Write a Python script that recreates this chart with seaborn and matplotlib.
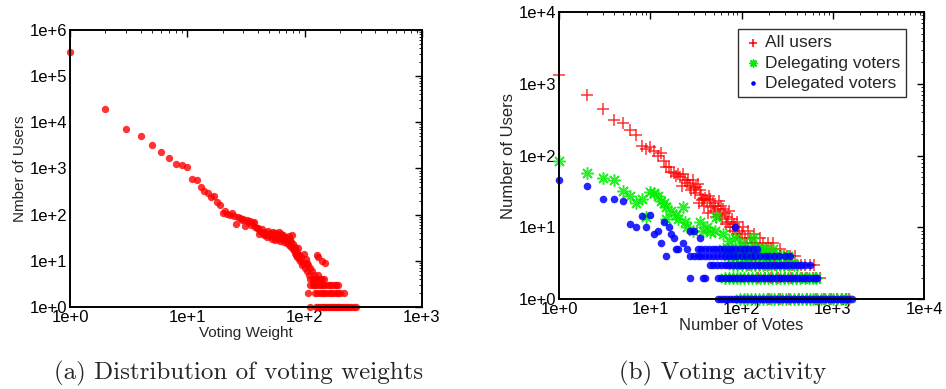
import numpy as np
import pandas as pd
import matplotlib
matplotlib.use('Agg')
import matplotlib.pyplot as plt
import matplotlib.ticker as mticker
import seaborn as sns

# ---------------- (a) distribution of voting weights ----------------
weight = [1, 2, 3, 4, 5, 6, 7, 8, 9, 10, 11, 12, 13, 14, 15, 16, 17, 18, 19,
          20, 21, 22, 23, 24, 25, 26, 27, 28, 29, 30, 31, 32, 33, 34, 35, 36, 37, 38, 39,
          40, 41, 42, 43, 44, 45, 46, 47, 48, 49, 50, 51, 52, 53, 54, 55, 56, 57, 58, 59,
          60, 61, 62, 63, 64, 65, 66, 67, 68, 69, 70, 71, 72, 73, 74, 75, 76, 77, 78, 79,
          80, 81, 82, 83, 84, 85, 86, 87, 88, 89, 90, 92, 94, 95, 97, 98, 100, 102, 104,
          105, 107, 110, 112, 115, 118, 120, 125, 128, 129, 130, 135, 140, 148]
n_users = [330000, 19000, 7000, 5000, 3200, 2300, 1650, 1220, 1200, 1050, 600, 575, 400,
           330, 300, 235, 250, 190, 165,
           110, 120, 105, 100, 108, 95, 63, 90, 85, 78, 80, 57, 75, 70, 72, 60, 66, 68, 55, 52,
           50, 38, 45, 48, 40, 36, 42, 37, 33, 44, 38, 35, 40, 30, 42, 36, 28, 39, 34, 30,
           41, 36, 27, 38, 33, 30, 37, 26, 32, 28, 31, 24, 29, 34, 22, 28, 20, 25, 36, 18,
           23, 17, 15, 20, 13, 16, 12, 14, 19, 11, 13, 10, 12, 8, 9, 14, 7, 11, 6,
           9, 8, 5, 7, 6, 4, 5, 4, 13, 12, 5, 4, 10, 9]
weight_n4 = [112, 118, 122, 135, 140, 145]
weight_n3 = [112, 117, 121, 126, 132, 138, 143, 150, 158, 165, 172, 180, 186, 192]
weight_n2 = [106, 122, 128, 134, 140, 146, 152, 160, 168, 176, 184, 192, 200, 215]
weight_n1 = [112, 125, 130, 135, 140, 145, 150, 155, 160, 165, 170, 175, 180, 186,
             192, 198, 205, 212, 220, 230, 240, 250, 262, 275]

# ---------------- (b) voting activity ----------------
all_x = [1, 2, 3, 4, 5, 6, 7, 8, 9, 10, 11, 12, 13, 14, 15, 16, 17, 18, 19, 20, 21, 22, 23,
         24, 25, 26, 27, 28, 29, 30, 31, 32, 33, 34, 35, 36, 37, 38, 39, 40, 42, 43, 44, 45,
         46, 48, 50, 51, 53, 55, 56, 58, 60, 61, 63, 65, 67, 69, 71, 73, 75, 78, 80, 83, 85,
         88, 90, 93, 96, 100, 104, 108, 113, 118, 123, 130, 135, 140, 150, 158, 165, 172,
         185, 195, 210, 222, 262]
all_y = [1330, 700, 450, 316, 285, 230, 195, 134, 124, 130, 115, 100, 108, 85, 70, 70, 60,
         58, 52, 55, 50, 38, 55, 45, 42, 45, 38, 33, 45, 35, 30, 36, 40, 22, 33, 28, 24, 25,
         20, 26, 24, 16, 27, 25, 19, 22, 17, 20, 14, 18, 23, 15, 20, 13, 18, 16, 11, 14, 12,
         17, 10, 13, 9, 11, 10, 8, 12, 9, 7, 8, 10, 7, 6, 9, 7, 6, 8, 6, 5, 7, 5, 6, 5, 6, 5,
         6, 5]
all_x4 = [90, 100, 110, 120, 130, 145, 160, 175, 190, 205, 225, 240, 260, 290, 310, 340, 380]
all_x3 = [120, 140, 160, 180, 200, 230, 260, 290, 320, 360, 400, 450, 500, 560, 620]
all_x2 = [150, 180, 210, 250, 300, 350, 400, 460, 520, 600, 660, 720]
all_x1 = [200, 260, 330, 420, 520, 650, 800, 950, 1100, 1250, 1400, 1500]

deleg_x = [1, 2, 3, 4, 5, 6, 7, 8, 9, 10, 11, 12, 13, 14, 15, 17, 15, 19, 20, 23, 24, 25,
           29, 35, 38, 42, 53, 45, 51, 63, 72, 85, 104, 132, 145]
deleg_y = [85, 58, 48, 45, 32, 27, 22, 25, 14, 31, 30, 27, 23, 22, 19, 17, 13, 15, 13, 19,
           12, 10, 9, 12, 9, 10, 14, 8.5, 9, 8, 6.5, 7, 6, 7, 5]
deleg_x5 = [63, 70, 78, 85, 95, 105, 115, 125, 140, 155, 170, 190, 220]
deleg_x4 = [70, 78, 88, 98, 110, 122, 135, 150, 170, 190, 215, 240, 270, 320]
deleg_x3 = [80, 90, 100, 112, 125, 140, 155, 170, 190, 210, 235, 260, 290, 330, 370, 400]
deleg_x2 = [65, 72, 80, 88, 97, 107, 118, 130, 143, 158, 175, 193, 213, 235, 260, 290,
            320, 355, 395, 440, 490, 545, 600, 650]
deleg_x1 = [95, 105, 115, 127, 140, 155, 170, 188, 207, 228, 252, 278, 306, 338, 373, 412,
            455, 502, 554, 612, 675, 745, 822, 907, 1000, 1100, 1220, 1350, 1400]

dgd_x = [1, 2, 3, 4, 5, 6, 7, 8, 9, 10, 11, 12, 13, 14, 15, 16, 17, 18, 19, 20, 23, 25, 27,
         30, 35, 85]
dgd_y = [45, 38, 24.5, 25, 23, 11, 10, 14.5, 10, 15, 8.2, 9, 6, 12, 4, 10, 8, 7, 5, 5, 6, 5,
         9, 9, 7, 10]
dgd_x5 = [33, 36, 40, 44, 48, 53, 58, 64, 70, 77, 85, 95, 105, 118, 132, 148]
dgd_x4 = [27, 30, 33, 36, 40, 44, 49, 54, 60, 66, 73, 81, 90, 100, 112, 125, 140, 158,
          178, 200, 225, 255, 300, 340]
dgd_x3 = [45, 49, 54, 59, 65, 71, 78, 86, 95, 104, 115, 126, 139, 153, 168, 185, 204,
          225, 248, 273, 300, 330, 365, 400, 450, 500, 560]
dgd_x2 = [27, 38, 40, 55, 60, 66, 72, 79, 87, 95, 104, 114, 125, 137, 150, 165, 181, 198,
          217, 238, 261, 286, 314, 344, 377, 413, 453, 497, 545, 600, 640, 670]
dgd_x1 = [55, 59, 64, 69, 74, 80, 86, 93, 100, 108, 116, 125, 135, 145, 157, 169, 182,
          196, 211, 228, 245, 264, 285, 307, 331, 357, 385, 415, 447, 482, 520, 560, 604,
          651, 702, 757, 816, 880, 948, 1022, 1102, 1188, 1281, 1381, 1480, 1600]

df_a = pd.DataFrame({
    'weight': weight + weight_n4 + weight_n3 + weight_n2 + weight_n1,
    'users': n_users + [4] * len(weight_n4) + [3] * len(weight_n3)
             + [2] * len(weight_n2) + [1] * len(weight_n1)})

def rows(xs, ys, extra):
    # extra = {count: [x values on that integer row]}
    xx, yy = list(xs), list(ys)
    for k, v in extra.items():
        xx += v
        yy += [k] * len(v)
    return pd.DataFrame({'votes': xx, 'users': yy})

df_all = rows(all_x, all_y, {4: all_x4, 3: all_x3, 2: all_x2, 1: all_x1})
df_deleg = rows(deleg_x, deleg_y, {5: deleg_x5, 4: deleg_x4, 3: deleg_x3, 2: deleg_x2, 1: deleg_x1})
df_dgd = rows(dgd_x, dgd_y, {5: dgd_x5, 4: dgd_x4, 3: dgd_x3, 2: dgd_x2, 1: dgd_x1})

sns.set_style('white')
plt.rcParams['font.family'] = ['Liberation Sans', 'DejaVu Sans']

fig = plt.figure(figsize=(9.46, 3.89), dpi=100)
ax1 = fig.add_axes([0.074, 0.211, 0.372, 0.712])
ax2 = fig.add_axes([0.591, 0.231, 0.386, 0.738])

sns.scatterplot(data=df_a, x='weight', y='users', ax=ax1, color='#ff0000', alpha=0.8,
                s=28, linewidth=0, clip_on=False)

sns.scatterplot(data=df_all, x='votes', y='users', ax=ax2, color='#ff0000', marker='+',
                s=85, linewidth=1.1, alpha=0.8, label='All users', clip_on=False)
sns.scatterplot(data=df_deleg, x='votes', y='users', ax=ax2, color='#00ee00', marker=(8, 2, 0),
                s=70, linewidth=1.1, alpha=0.85, label='Delegating voters', clip_on=False)
sns.scatterplot(data=df_dgd, x='votes', y='users', ax=ax2, color='#0000ff', s=30,
                linewidth=0, alpha=0.85, label='Delegated voters', clip_on=False)

def fmt(v, pos):
    return '1e+%d' % int(round(np.log10(v)))

for ax, xl, yl in [(ax1, (1, 1e3), (1, 1e6)), (ax2, (1, 1e4), (1, 1e4))]:
    ax.set_xscale('log')
    ax.set_yscale('log')
    ax.set_xlim(*xl)
    ax.set_ylim(*yl)
    for axis in (ax.xaxis, ax.yaxis):
        axis.set_major_locator(mticker.LogLocator(base=10, numticks=10))
        axis.set_minor_locator(mticker.LogLocator(base=10, subs=np.arange(2, 10), numticks=10))
        axis.set_major_formatter(mticker.FuncFormatter(fmt))
        axis.set_minor_formatter(mticker.NullFormatter())
    ax.tick_params(which='both', direction='in', top=True, right=True, colors='black')
    ax.tick_params(which='major', length=5, width=1, labelsize=12, pad=2)
    ax.tick_params(which='minor', length=2.5, width=0.6)
    for sp in ax.spines.values():
        sp.set_color('black')
        sp.set_linewidth(1.4)

ax1.set_xlabel('Voting Weight', fontsize=11, labelpad=1)
ax1.set_ylabel('Nmber of Users', fontsize=11, labelpad=2)
ax2.set_xlabel('Number of Votes', fontsize=12, labelpad=1)
ax2.set_ylabel('Number of Users', fontsize=12, labelpad=2)

leg = ax2.legend(loc='upper right', bbox_to_anchor=(0.951, 0.941), borderaxespad=0,
                 fontsize=12.5, frameon=True, fancybox=False, edgecolor='black',
                 handletextpad=0.2, borderpad=0.35, labelspacing=0.3, handlelength=1.0,
                 markerscale=0.6)
leg.get_frame().set_linewidth(1.0)
for h in leg.legend_handles:
    h.set_alpha(1)

fig.text(0.252, 0.04, '(a) Distribution of voting weights', ha='center', va='center',
         fontsize=18, family='cmr10')
fig.text(0.764, 0.04, '(b) Voting activity', ha='center', va='center',
         fontsize=18, family='cmr10')

fig.savefig('out.png', dpi=100, facecolor='white')
